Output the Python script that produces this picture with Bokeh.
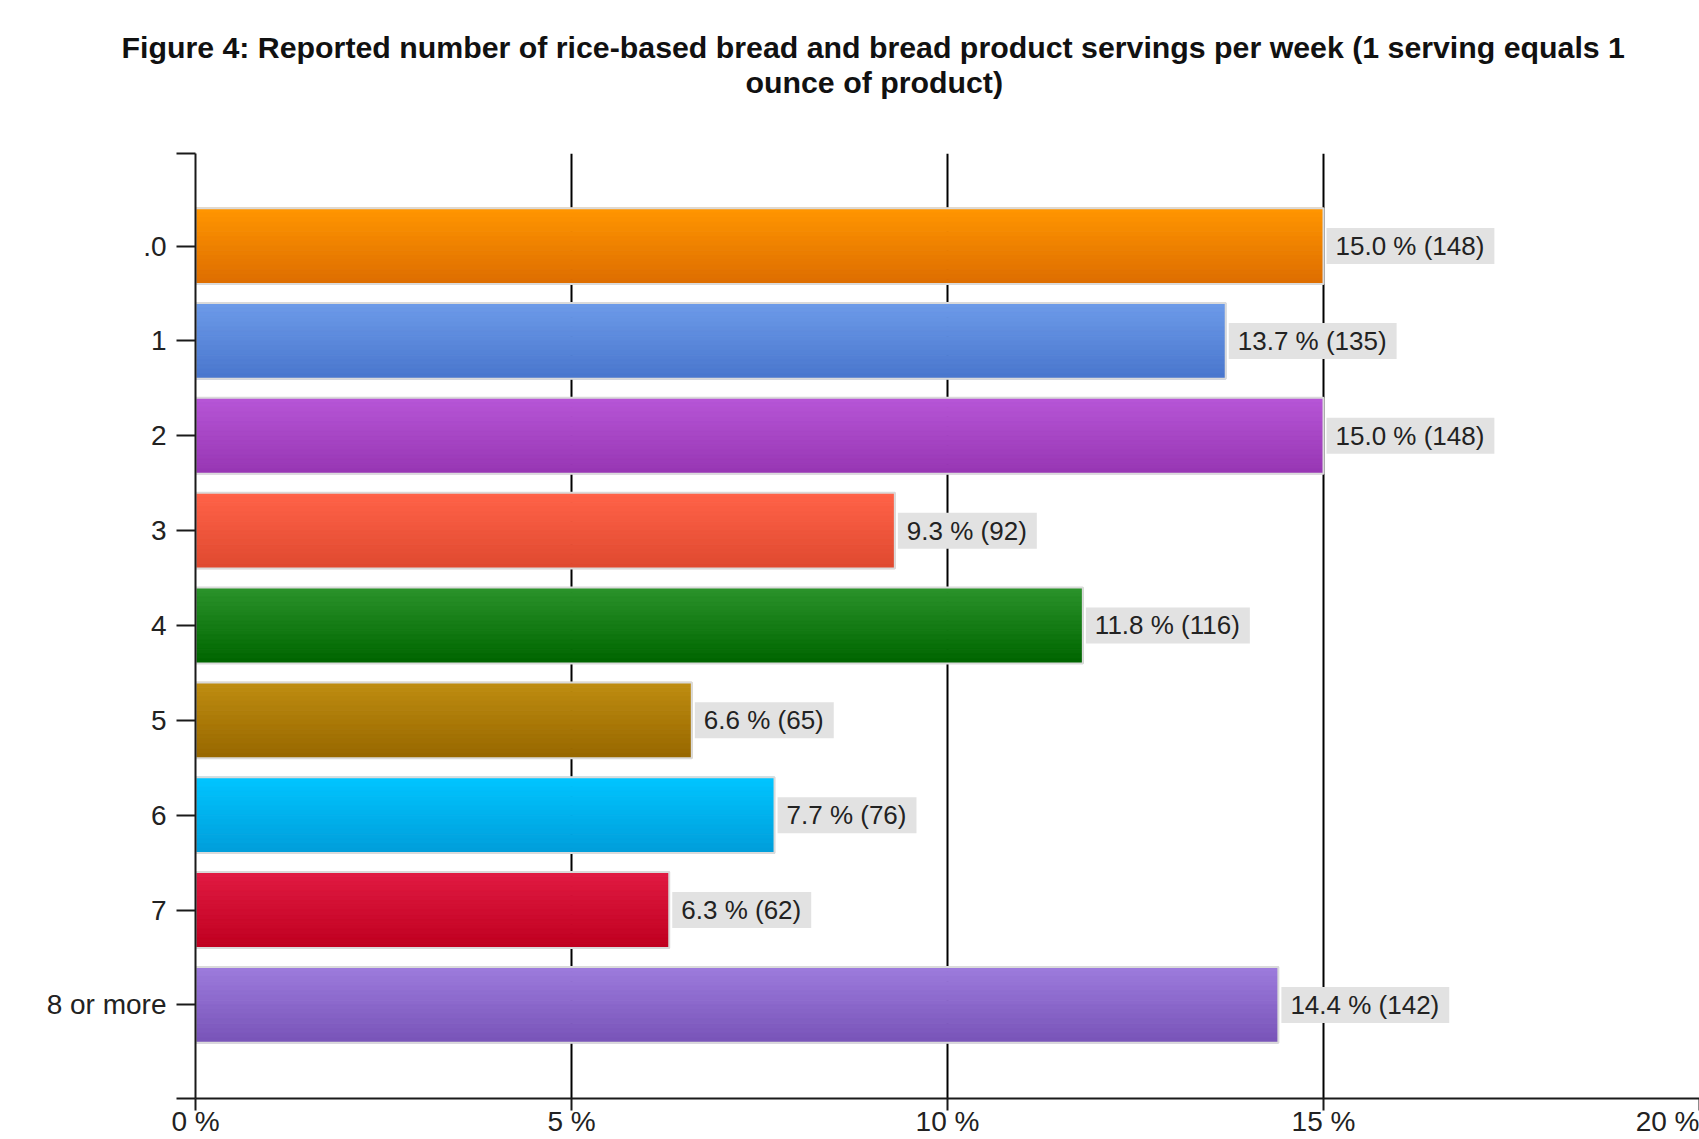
from bokeh.plotting import figure
from bokeh.models import Range1d, FixedTicker, ColumnDataSource, Title
from bokeh.core.properties import value
from bokeh.embed import file_html
from bokeh.resources import INLINE

# ---------------- data ----------------
categories = [".0", "1", "2", "3", "4", "5", "6", "7", "8 or more"]
percents = [15.0, 13.7, 15.0, 9.3, 11.8, 6.6, 7.7, 6.3, 14.4]
counts = [148, 135, 148, 92, 116, 65, 76, 62, 142]
top_colors = ["#ff9500", "#6c9ae8", "#b655d6", "#ff6248", "#2a922a",
              "#be8c10", "#00c4ff", "#e01a42", "#9c7adc"]
bottom_colors = ["#de6e00", "#4a77ce", "#9837b4", "#e04a30", "#006600",
                 "#986800", "#009fdb", "#c00020", "#7955b9"]
x_ticks = [0, 5, 10, 15, 20]
x_tick_labels = ["0 %", "5 %", "10 %", "15 %", "20 %"]
title_line1 = ("Figure 4: Reported number of rice-based bread and bread product "
               "servings per week (1 serving equals 1")
title_line2 = "ounce of product)"

# ---------------- style ----------------
FONT = "Liberation Sans"
TITLE_SIZE = "30.3px"
BAR_H = 0.8
N_SLICES = 16
Y_TOP = -0.976
Y_BOTTOM = 8.987
AXIS_COLOR = "#1a1a1a"
X_TICK_OUT = 12
X_STANDOFF = -5


def mix(c1, c2, t):
    a = [int(c1[k:k + 2], 16) for k in (1, 3, 5)]
    b = [int(c2[k:k + 2], 16) for k in (1, 3, 5)]
    return "#%02x%02x%02x" % tuple(round(a[i] + (b[i] - a[i]) * t) for i in range(3))


p = figure(width=1699, height=1139, output_backend="svg", toolbar_location=None,
           x_range=Range1d(x_ticks[0], x_ticks[-1]), y_range=Range1d(Y_BOTTOM, Y_TOP),
           min_border_left=195, min_border_right=0, min_border_top=153,
           min_border_bottom=0)
p.outline_line_color = None
p.background_fill_color = "white"

# spacer between title and plot, then the two title lines (nearest first)
p.add_layout(Title(text=" ", text_font=FONT, text_font_size="10px",
                   standoff=42), "above")
p.add_layout(Title(text=title_line2, align="left", offset=550, text_font=FONT,
                   text_font_size=TITLE_SIZE, text_font_style="bold",
                   text_color="#111111", standoff=0), "above")
p.add_layout(Title(text=title_line1, align="left", offset=-74, text_font=FONT,
                   text_font_size=TITLE_SIZE, text_font_style="bold",
                   text_color="#111111", standoff=0), "above")

# gradient bars built from horizontal slices
ys, rights, cols = [], [], []
for i, v in enumerate(percents):
    for j in range(N_SLICES):
        t = j / (N_SLICES - 1)
        ys.append(i - BAR_H / 2 + (j + 0.5) * BAR_H / N_SLICES)
        rights.append(v)
        cols.append(mix(top_colors[i], bottom_colors[i], t))
p.hbar(y=ys, left=0, right=rights, height=BAR_H / N_SLICES,
       fill_color=cols, line_color=cols, line_width=1)
# light bar border
p.hbar(y=list(range(len(categories))), left=0, right=percents, height=BAR_H,
       fill_color=None, line_color="#dadada", line_width=2)

# value labels
label_src = ColumnDataSource(dict(
    x=percents, y=list(range(len(categories))),
    text=[f"{pc:.1f} % ({n})" for pc, n in zip(percents, counts)]))
p.text(x="x", y="y", text="text", source=label_src, text_font=value(FONT),
       text_font_size="26px", text_color="#222222", text_align="left",
       text_baseline="middle", x_offset=3, background_fill_color="#e2e2e2",
       padding=dict(left=9, right=10, top=3, bottom=3))

# axes
p.xaxis.ticker = FixedTicker(ticks=x_ticks)
p.xaxis.major_label_overrides = dict(zip(x_ticks, x_tick_labels))
p.xaxis.major_tick_out = X_TICK_OUT
p.xaxis.major_tick_in = 0
p.xaxis.minor_tick_line_color = None
p.xaxis.major_label_standoff = X_STANDOFF
p.xaxis.major_label_text_font = FONT
p.xaxis.major_label_text_font_size = "28px"
p.xaxis.major_label_text_color = "#222222"
p.xaxis.axis_line_color = AXIS_COLOR
p.xaxis.axis_line_width = 2
p.xaxis.major_tick_line_color = AXIS_COLOR
p.xaxis.major_tick_line_width = 2

y_ticks = [Y_TOP] + list(range(len(categories))) + [Y_BOTTOM]
y_over = {i: c for i, c in enumerate(categories)}
y_over[Y_TOP] = ""
y_over[Y_BOTTOM] = ""
p.yaxis.ticker = FixedTicker(ticks=y_ticks)
p.yaxis.major_label_overrides = y_over
p.yaxis.major_tick_out = 19
p.yaxis.major_tick_in = 0
p.yaxis.minor_tick_line_color = None
p.yaxis.major_label_standoff = 10
p.yaxis.major_label_text_font = FONT
p.yaxis.major_label_text_font_size = "28px"
p.yaxis.major_label_text_color = "#222222"
p.yaxis.axis_line_color = AXIS_COLOR
p.yaxis.axis_line_width = 2
p.yaxis.major_tick_line_color = AXIS_COLOR
p.yaxis.major_tick_line_width = 2

p.xgrid.ticker = FixedTicker(ticks=x_ticks[1:4])
p.xgrid.grid_line_color = "black"
p.xgrid.grid_line_width = 2
p.ygrid.visible = False

open("out.html", "w").write(file_html(p, INLINE))
